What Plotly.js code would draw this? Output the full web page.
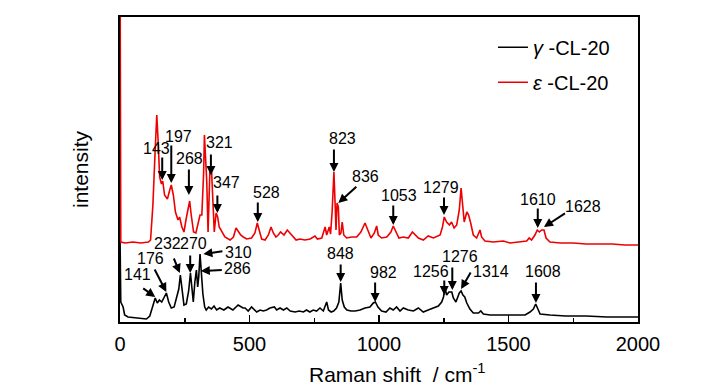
<!DOCTYPE html>
<html>
<head>
<meta charset="utf-8">
<script src="https://cdn.plot.ly/plotly-3.0.1.min.js"></script>
<style>html,body{margin:0;padding:0;background:#fff}#chart{width:727px;height:389px}</style>
</head>
<body>
<div id="chart"></div>
<script>
// ---- data ----
const seriesNames = ['<i>γ</i> -CL-20', '<i>ε</i> -CL-20'];
const xTitle = 'Raman shift\u00a0 / cm<sup>-1</sup>';
const yTitle = 'intensity';

// ε-CL-20 (red, offset spectrum)
const waveEps = [0,3,20,50,80,110,118,127,136,142,148,153,160,165,172,183,192,198,206,214,224,230,239,247,256,265,269,275,284,293,301,309,316,323,326,335,340,347,353,359,364,371,377,383,393,405,425,438,448,457,466,476,489,508,521,530,538,547,560,573,583,592,602,611,620,633,646,656,667,680,695,714,734,753,762,779,792,798,808,813,819,826,831,834,838,843,847,853,858,864,875,895,914,930,946,956,969,982,991,997,1010,1030,1046,1055,1065,1077,1094,1113,1129,1139,1152,1171,1190,1210,1236,1245,1252,1261,1272,1280,1290,1300,1310,1317,1323,1329,1339,1346,1354,1364,1377,1390,1396,1409,1441,1480,1506,1544,1570,1580,1589,1602,1611,1619,1628,1637,1645,1660,1700,1750,1800,1850,1900,1950,2000];
const intEps  = [400,80,79,80,79,80,82,117,173,207,177,145,138,141,127,123,132,137,127,110,102,105,95,90,104,119,121,107,90,89,97,107,107,150,187,140,90,150,154,107,90,109,105,95,90,85,82,85,94,90,87,85,83,84,89,99,90,83,82,87,95,89,85,87,90,87,92,89,85,82,83,82,83,86,83,84,95,87,95,88,110,150,115,92,119,115,87,89,100,87,84,85,85,90,99,92,84,89,96,87,84,85,90,96,90,84,85,84,90,87,84,82,86,84,87,95,105,100,97,100,94,97,112,134,119,100,110,107,99,87,84,92,85,81,80,81,79,80,81,84,82,87,92,90,92,92,84,80,79,79,78,78,78,77,77];

// γ-CL-20 (black)
const waveGam = [0,3,12,18,31,69,102,115,127,136,144,152,161,172,179,188,198,209,217,227,233,240,247,256,265,272,278,283,289,295,300,304,309,314,320,327,333,342,353,363,373,385,401,417,436,456,475,483,495,508,528,541,553,566,579,596,605,618,631,644,657,676,692,708,720,733,746,759,772,785,798,805,815,825,836,845,852,858,866,876,892,908,927,946,965,978,986,996,1010,1027,1042,1055,1068,1081,1094,1113,1133,1152,1171,1190,1210,1229,1242,1249,1255,1261,1270,1281,1287,1297,1310,1317,1324,1331,1339,1351,1364,1384,1393,1403,1429,1467,1519,1564,1583,1596,1605,1614,1622,1660,1720,1800,1880,1950,2000];
const intGam  = [86,20,15,7,5,4,3,6,17,24,19,22,20,25,29,20,14,15,22,33,47,32,17,18,31,49,30,20,40,52,35,45,68,50,28,15,12,15,13,16,12,14,12,15,12,17,14,14,11,15,10,12,11,12,14,15,12,14,12,14,11,10,11,10,12,10,12,11,14,11,20,12,10,11,14,20,39,22,15,12,11,11,12,14,15,19,20,15,11,10,14,12,15,11,14,12,11,14,10,12,14,16,20,25,34,27,30,30,24,20,29,31,27,25,19,13,9,9,11,8,7,7,7,7,10,13,18,12,8,7,6,6,5,5,5];

// peak labels
const labelsEps = ['143','197','268','321','347','528','823','836','1053','1279','1610','1628'];
const labelsGam = ['141','176','232','270','310','286','848','982','1256','1276','1314','1608'];

// ---- annotation placement (layout, in axis units / pixel offsets) ----
// [tipX, tipY, ax, ay, textX, textY]
const placeEps = [
  [163,142,0,-25,139,174],
  [198,139,0,-40,224,186],
  [266,127,0,-28,270,164],
  [351,147,0,-23,386,180],
  [376,109,0,-20,413,140],
  [532,100,0,-22,566,130],
  [826,150,0,-25,859,184],
  [843,119,20,-18,948,146],
  [1055,97,0,-22,1079,127],
  [1251,107,0,-20,1241,135],
  [1613,94,0,-22,1614,123],
  [1637,95,23,-15,1786,116]
];
const placeGam = [
  [136,25,-14,-10,66,48],
  [179,30,-13,-25,116,64],
  [231,49,-7,-17,183,79],
  [271,49,0,-20,282,79],
  [322,68,21,-3,457,70],
  [312,51,23,-1,454,54],
  [852,40,0,-20,851,69],
  [985,20,0,-22,1019,50],
  [1252,27,0,-17,1201,51],
  [1283,32,0,-25,1313,66],
  [1317,33,11,-19,1434,51],
  [1606,19,0,-23,1633,51]
];

const labelFont = {family:'"Liberation Sans",Arial,sans-serif', size:16, color:'#000'};

const annotations = [];
function addLabels(labels, place){
  labels.forEach((t,i)=>{
    const p = place[i];
    annotations.push({x:p[0], y:p[1], xref:'x', yref:'y', ax:p[2], ay:p[3], text:' ',
      font:{size:2}, showarrow:true, arrowhead:2, arrowsize:0.9, arrowwidth:2, arrowcolor:'#000',
      standoff:0, startstandoff:0});
    annotations.push({x:p[4], y:p[5], xref:'x', yref:'y', text:t, showarrow:false,
      xanchor:'center', yanchor:'middle', font:labelFont});
  });
}
addLabels(labelsEps, placeEps);
addLabels(labelsGam, placeGam);
// x-axis title (placed slightly right of centre, as in the reference)
annotations.push({xref:'paper', yref:'paper', x:0.535, y:-0.168, xanchor:'center', yanchor:'middle',
  text:xTitle, showarrow:false, font:{size:21, family:'"Liberation Sans",Arial,sans-serif', color:'#000'}});

const traces = [
  {x:waveGam, y:intGam, name:seriesNames[0], type:'scatter', mode:'lines',
   line:{color:'#000000', width:1.6}, legendgroup:'g'},
  {x:waveEps, y:intEps, name:seriesNames[1], type:'scatter', mode:'lines',
   line:{color:'#ee0000', width:1.6}, legendgroup:'e'}
];

const layout = {
  width:727, height:389,
  margin:{l:120, r:89, t:17, b:67},
  paper_bgcolor:'#fff', plot_bgcolor:'#fff',
  font:{family:'"Liberation Sans",Arial,sans-serif', color:'#000'},
  showlegend:true,
  legend:{x:0.72, xanchor:'left', y:0.965, yanchor:'top', bgcolor:'rgba(0,0,0,0)',
          font:{size:20, family:'"Liberation Sans",Arial,sans-serif'}, traceorder:'grouped', tracegroupgap:6},
  xaxis:{range:[0,2000], dtick:500, tick0:0, ticks:'inside', ticklen:7, tickwidth:1.5, tickcolor:'#000',
         minor:{ticks:'inside', ticklen:4, dtick:250, tickcolor:'#000', tickwidth:1.5},
         showline:true, linewidth:1.8, linecolor:'#000', mirror:true, showgrid:false, zeroline:false,
         tickfont:{size:20, family:'"Liberation Sans",Arial,sans-serif'},
         ticklabelstandoff:3},
  yaxis:{range:[0,305], showticklabels:false, ticks:'', showline:true, linewidth:1.8, linecolor:'#000',
         mirror:true, showgrid:false, zeroline:false,
         title:{text:yTitle, font:{size:21}, standoff:24}},
  annotations:annotations
};

Plotly.newPlot('chart', traces, layout, {staticPlot:true, displayModeBar:false});
</script>
</body>
</html>
